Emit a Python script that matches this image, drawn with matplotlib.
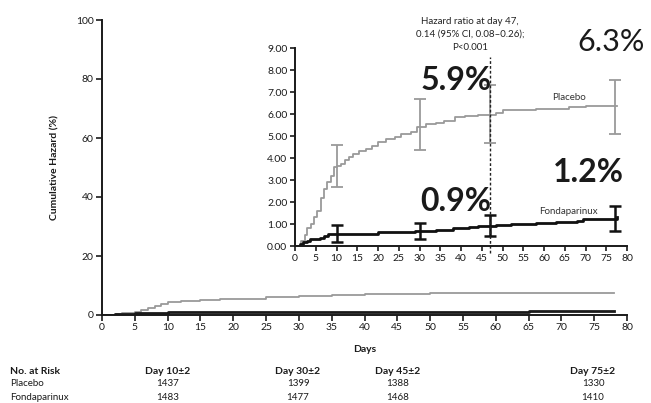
import matplotlib
matplotlib.use('Agg')
import matplotlib.pyplot as plt
import numpy as np

plt.rcParams['font.family'] = ['Lato', 'DejaVu Sans']

# main panel curves (cumulative hazard, %)
main_pl_days = [0, 2, 3, 4, 5, 6, 7, 8, 9, 10, 12, 15, 18, 20, 25, 30, 35, 40, 50, 55, 60, 78]
main_pl_vals = [0, 0.3, 0.6, 0.8, 1.0, 1.6, 2.4, 3.2, 3.8, 4.3, 4.7, 5.1, 5.3, 5.5, 6.0, 6.5, 6.7, 7.0, 7.3, 7.5, 7.6, 7.6]
main_fo_days = [0, 2, 5, 10, 20, 35, 50, 65, 78]
main_fo_vals = [0, 0.3, 0.6, 0.9, 1.0, 1.0, 1.1, 1.5, 1.5]

# inset curves
pl_days = [0, 1.5, 2.3, 3.0, 3.8, 4.6, 5.4, 6.2, 7.0, 7.8, 8.6, 9.3, 10.0, 11.0, 12.0, 13.0, 14.0,
           15.5, 17.0, 18.5, 20.0, 22.0, 24.0, 25.5, 28.0, 29.5, 31.5, 34.0, 36.0, 38.5, 41.0,
           44.0, 48.5, 50.0, 58.0, 66.0, 70.0, 77.5]
pl_vals = [0, 0.25, 0.5, 0.8, 1.0, 1.3, 1.6, 2.2, 2.6, 2.9, 3.2, 3.6, 3.65, 3.75, 3.9, 4.05, 4.2,
           4.3, 4.4, 4.55, 4.75, 4.85, 4.95, 5.1, 5.2, 5.4, 5.55, 5.6, 5.7, 5.85, 5.9,
           5.95, 6.05, 6.2, 6.25, 6.3, 6.35, 6.35]
fo_days = [0, 1.2, 2.0, 2.8, 3.6, 6.0, 7.0, 8.0, 10.0, 20.0, 29.0, 34.0, 38.0, 42.0, 44.0,
           48.5, 52.0, 58.0, 63.0, 68.0, 69.5, 77.5]
fo_vals = [0, 0.1, 0.2, 0.25, 0.3, 0.35, 0.45, 0.55, 0.55, 0.65, 0.7, 0.75, 0.8, 0.85, 0.9,
           0.95, 1.0, 1.05, 1.1, 1.15, 1.25, 1.3]

# error bars in inset
err_days = [10, 30, 47, 77]
pl_mid = [3.65, 5.55, 5.95, 6.3]
pl_lo = [2.7, 4.35, 4.7, 5.1]
pl_hi = [4.6, 6.7, 7.3, 7.55]
fo_mid = [0.55, 0.7, 0.9, 1.25]
fo_lo = [0.2, 0.3, 0.45, 0.7]
fo_hi = [0.95, 1.05, 1.4, 1.8]

# risk table
risk_heads = ['Day 10\u00b12', 'Day 30\u00b12', 'Day 45\u00b12', 'Day 75\u00b12']
risk_placebo = ['1437', '1399', '1388', '1330']
risk_fonda = ['1483', '1477', '1468', '1410']

W, H = 651, 403
fig = plt.figure(figsize=(W / 100, H / 100), dpi=100)

def px(l, t, r, b):
    return [l / W, 1 - b / H, (r - l) / W, (b - t) / H]

gray = '#9a9a9a'
ink = '#1a1a1a'

ax = fig.add_axes(px(102, 20, 627, 315))
ax.step(main_pl_days, main_pl_vals, where='post', color=gray, lw=1.3)
ax.step(main_fo_days, main_fo_vals, where='post', color=ink, lw=2)
ax.set_xlim(0, 80)
ax.set_ylim(0, 100)
ax.set_xticks(np.arange(0, 81, 5))
ax.set_yticks(np.arange(0, 101, 20))
for s in ['top', 'right']:
    ax.spines[s].set_visible(False)
for s in ['left', 'bottom']:
    ax.spines[s].set_linewidth(1.4)
    ax.spines[s].set_color(ink)
ax.tick_params(direction='out', length=4, width=1.2, labelsize=7.5, pad=2, colors=ink)
ax.set_xlabel('Days', fontsize=7.5, fontweight='bold', labelpad=9, color=ink)
ax.set_ylabel('Cumulative Hazard (%)', fontsize=7.5, fontweight='bold', labelpad=12, color=ink)

ins = fig.add_axes(px(295, 48, 627, 246))
ins.patch.set_alpha(0)
ins.step(pl_days, pl_vals, where='post', color=gray, lw=1.3)
ins.step(fo_days, fo_vals, where='post', color='#111111', lw=2)
ins.errorbar(err_days, pl_mid, yerr=[np.subtract(pl_mid, pl_lo), np.subtract(pl_hi, pl_mid)],
             fmt='none', ecolor=gray, elinewidth=1.3, capsize=4, capthick=1.3)
ins.errorbar(err_days, fo_mid, yerr=[np.subtract(fo_mid, fo_lo), np.subtract(fo_hi, fo_mid)],
             fmt='none', ecolor='#111111', elinewidth=1.8, capsize=4, capthick=1.8)
ins.plot([47, 47], [-0.3, 8.6], ls=(0, (2, 1.5)), color='#222222', lw=1, clip_on=False)
ins.set_xlim(0, 80)
ins.set_ylim(0, 9)
ins.set_xticks(np.arange(0, 81, 5))
ins.set_yticks(np.arange(0, 10, 1))
ins.set_yticklabels(['%.2f' % v for v in np.arange(0, 10, 1)])
for s in ['top', 'right']:
    ins.spines[s].set_visible(False)
for s in ['left', 'bottom']:
    ins.spines[s].set_linewidth(1.4)
    ins.spines[s].set_color(ink)
ins.tick_params(direction='out', length=3.5, width=1.2, labelsize=7.5, pad=2, colors=ink)

ins.text(66, 6.55, 'Placebo', fontsize=7, ha='center', va='bottom', color='#333333')
ins.text(66, 1.35, 'Fondaparinux', fontsize=7, ha='center', va='bottom', color='#333333')

fig.text(470 / W, 1 - 22 / H, 'Hazard ratio at day 47,', fontsize=7, ha='center', va='center', color='#222222')
fig.text(470 / W, 1 - 34 / H, '0.14 (95% CI, 0.08\u20130.26);', fontsize=7, ha='center', va='center', color='#222222')
fig.text(470 / W, 1 - 47 / H, 'P<0.001', fontsize=7, ha='center', va='center', color='#222222')

fig.text(611 / W, 1 - 42 / H, '6.3%', fontsize=22, ha='center', va='center', color=ink)
fig.text(456 / W, 1 - 80 / H, '5.9%', fontsize=23, fontweight='bold', ha='center', va='center', color=ink)
fig.text(588 / W, 1 - 173 / H, '1.2%', fontsize=23, fontweight='bold', ha='center', va='center', color=ink)
fig.text(456 / W, 1 - 202 / H, '0.9%', fontsize=23, fontweight='bold', ha='center', va='center', color=ink)

# number at risk
col_x = [168, 298, 398, 593]
fig.text(10 / W, 1 - 371 / H, 'No. at Risk', fontsize=7.5, fontweight='bold', va='center', color=ink)
fig.text(10 / W, 1 - 384 / H, 'Placebo', fontsize=7, va='center', color=ink)
fig.text(10 / W, 1 - 397 / H, 'Fondaparinux', fontsize=7, va='center', color=ink)
for x, h, p, f in zip(col_x, risk_heads, risk_placebo, risk_fonda):
    fig.text(x / W, 1 - 371 / H, h, fontsize=7.5, fontweight='bold', ha='center', va='center', color=ink)
    fig.text(x / W, 1 - 384 / H, p, fontsize=7, ha='center', va='center', color=ink)
    fig.text(x / W, 1 - 397 / H, f, fontsize=7, ha='center', va='center', color=ink)

fig.savefig('out.png', dpi=100)
